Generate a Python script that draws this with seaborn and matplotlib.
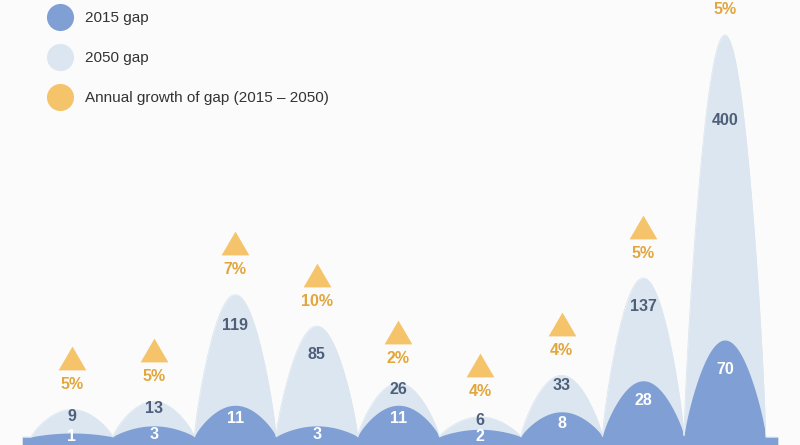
import numpy as np
import matplotlib
matplotlib.use("Agg")
import matplotlib.pyplot as plt
import seaborn as sns
import pandas as pd
from matplotlib import transforms
from matplotlib.lines import Line2D
from matplotlib.path import Path

# ---- data ----
gap_2015 = [1, 3, 11, 3, 11, 2, 8, 28, 70]
gap_2050 = [9, 13, 119, 85, 26, 6, 33, 137, 400]
growth_labels = ["5%", "5%", "7%", "10%", "2%", "4%", "4%", "5%", "5%"]
legend_labels = ["2015 gap", "2050 gap", "Annual growth of gap (2015 – 2050)"]

# ---- style ----
bg = "#fbfbfb"
dark_blue = "#809fd5"
light_blue = "#dce6f0"
orange = "#f5c46a"
orange_text = "#e2a63c"
slate = "#4f5f7a"

# scale: linear for large values, stretched near zero
A, K = 35.0, 10.0
def fwd(y):
    y = np.asarray(y, dtype=float)
    a = np.abs(y)
    return np.sign(y) * (a + A * (1 - np.exp(-a / K)))
_grid = np.linspace(0, 2000, 200001)
_fgrid = fwd(_grid)
def inv(f):
    f = np.asarray(f, dtype=float)
    return np.sign(f) * np.interp(np.abs(f), _fgrid, _grid)

sns.set_theme(style="white")
plt.rcParams["font.family"] = ["Liberation Sans", "DejaVu Sans"]

fig = plt.figure(figsize=(8, 4.45), dpi=100, facecolor=bg)
ax = fig.add_axes([0, 0, 1, 1])
ax.set_facecolor(bg)
ax.set_yscale("function", functions=(fwd, inv))

n = len(gap_2015)
pos = np.arange(n)
xs = np.linspace(-0.61, n - 1 + 0.65, 4000)

def bumps(vals):
    out = np.zeros_like(xs)
    for p, v in zip(pos, vals):
        d = xs - p
        s = np.where(np.abs(d) < 0.5, np.clip(np.cos(np.pi * d), 0, None) ** 0.78, 0.0)
        out = np.maximum(out, inv(fwd(v) * s))
    return out

c50 = bumps(gap_2050)
c15 = bumps(gap_2015)

F400 = fwd(max(gap_2050))
ytop = float(inv(F400 * 437 / 402))
ybot = float(inv(-F400 * 8 / 402))
df = pd.DataFrame({"x": xs, "c50": c50, "c15": c15})

ax.fill_between(df["x"], 0, df["c50"], color=light_blue, lw=0)
ax.fill_between(df["x"], ybot, df["c15"], color=dark_blue, lw=0)
sns.lineplot(data=df, x="x", y="c50", ax=ax, color=light_blue, lw=0.6)

ax.set_xlim(-72 / 81.6, (800 - 72) / 81.6)
ax.set_ylim(ybot, ytop)
ax.axis("off")

# value labels
for p, v15, v50 in zip(pos, gap_2015, gap_2050):
    f50, f15 = fwd(v50), fwd(v15)
    y50 = inv(f50 - 0.28 * (f50 - f15))
    ax.text(p, y50, str(v50), ha="center", va="center", color=slate,
            fontsize=11.5, fontweight="bold")
    y15 = inv(max(0.75 * f15 - 6, 0.0))
    ax.text(p, y15, str(v15), ha="center", va="center", color="white",
            fontsize=11.5, fontweight="bold")

# growth labels and triangles
tri = Path([(-1, -0.857), (1, -0.857), (0, 0.857), (-1, -0.857)],
           [Path.MOVETO, Path.LINETO, Path.LINETO, Path.CLOSEPOLY])
tri_tr = transforms.offset_copy(ax.transData, fig=fig, x=0, y=37, units="points")
for p, v50, g in zip(pos, gap_2050, growth_labels):
    ax.annotate(g, (p, v50), xytext=(0, 18), textcoords="offset points",
                ha="center", va="center", color=orange_text, fontsize=11.5,
                fontweight="bold", annotation_clip=False)
    ax.plot([p], [v50], marker=tri, ms=20, color=orange, mec="none",
            transform=tri_tr, clip_on=False, ls="")

# legend
handles = [Line2D([], [], marker="o", ls="", ms=19.5, mfc=c, mec="none")
           for c in (dark_blue, light_blue, orange)]
leg = ax.legend(handles, legend_labels, loc="upper left",
                bbox_to_anchor=(45 / 800, 1 - 11 / 445), frameon=False,
                fontsize=11, labelspacing=1.71, handlelength=2.0,
                handletextpad=0.6, borderpad=0, borderaxespad=0)
for t in leg.get_texts():
    t.set_color("#333333")

fig.savefig("out.png", dpi=100, facecolor=bg)
